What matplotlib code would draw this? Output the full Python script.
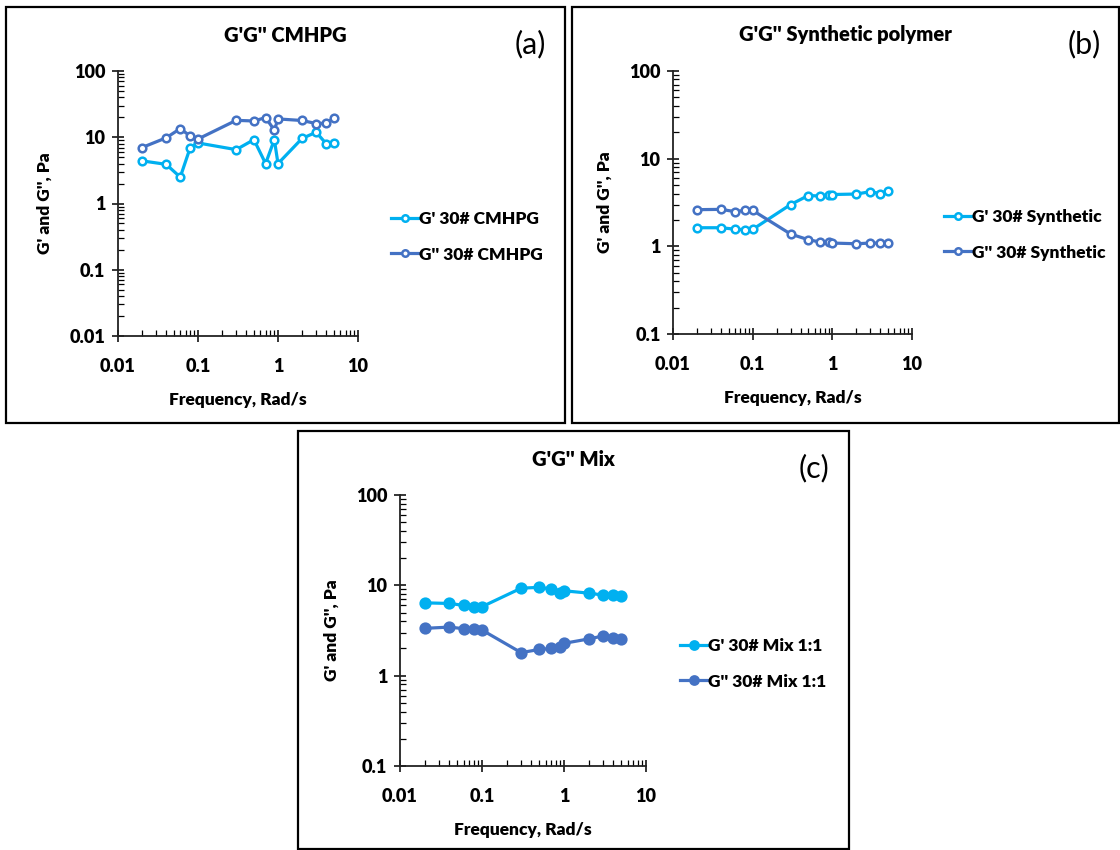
import numpy as np
import matplotlib
matplotlib.use("Agg")
import matplotlib.pyplot as plt
from matplotlib.patches import Rectangle
from matplotlib.ticker import LogLocator, FixedLocator, NullFormatter

plt.rcParams['font.family'] = ['Lato', 'DejaVu Sans']

# frequency sweep, rad/s (same for all three samples)
freq = [0.02, 0.04, 0.06, 0.08, 0.1, 0.3, 0.5, 0.7, 0.9, 1, 2, 3, 4, 5]

cmhpg_g1 = [4.4, 3.9, 2.5, 7.0, 8.2, 6.5, 9.2, 4.0, 9.2, 4.0, 9.6, 11.9, 8.0, 8.2]
cmhpg_g2 = [7.0, 9.8, 13.5, 10.4, 9.4, 18.0, 17.6, 19.8, 12.8, 18.9, 17.9, 16.1, 16.3, 19.6]

synth_g1 = [1.63, 1.63, 1.57, 1.55, 1.56, 3.0, 3.8, 3.75, 3.9, 3.9, 3.95, 4.2, 4.0, 4.3]
synth_g2 = [2.62, 2.64, 2.49, 2.57, 2.57, 1.38, 1.19, 1.12, 1.12, 1.09, 1.07, 1.09, 1.09, 1.09]

mix_g1 = [6.4, 6.3, 6.0, 5.8, 5.8, 9.3, 9.5, 9.1, 8.3, 8.7, 8.2, 7.8, 7.8, 7.6]
mix_g2 = [3.34, 3.45, 3.31, 3.31, 3.2, 1.8, 1.95, 2.0, 2.1, 2.28, 2.55, 2.75, 2.63, 2.55]

C1 = '#00B0F0'
C2 = '#4472C4'
BOLD = 'heavy'

W, H = 1120, 850
fig = plt.figure(figsize=(11.2, 8.5), dpi=100)


def px_axes(l, t, r, b):
    return fig.add_axes([l / W, 1 - b / H, (r - l) / W, (b - t) / H])


def frame(l, t, r, b):
    fig.patches.append(Rectangle((l / W, 1 - b / H), (r - l) / W, (b - t) / H,
                                 transform=fig.transFigure, fill=False,
                                 edgecolor='black', linewidth=1.6))


def panel(box, frm, title, tag, y1, y2, labels, ylim, leg_anchor, filled=False):
    frame(*frm)
    ax = px_axes(*box)
    ms = 7 if filled else 5.5
    ax.plot(freq, y1, '-o', color=C1, lw=2.3, ms=ms, mew=1.8,
            mfc=(C1 if filled else 'white'), label=labels[0])
    ax.plot(freq, y2, '-o', color=C2, lw=2.3, ms=ms, mew=1.8,
            mfc=(C2 if filled else 'white'), label=labels[1])
    ax.set_xscale('log')
    ax.set_yscale('log')
    ax.set_xlim(0.01, 10)
    ax.set_ylim(*ylim)
    ax.xaxis.set_major_locator(FixedLocator([0.01, 0.1, 1, 10]))
    ax.set_xticklabels(['0.01', '0.1', '1', '10'])
    yt = [10.0 ** k for k in range(int(round(np.log10(ylim[0]))), int(round(np.log10(ylim[1]))) + 1)]
    ax.yaxis.set_major_locator(FixedLocator(yt))
    ax.set_yticklabels([('%g' % v) for v in yt])
    ax.xaxis.set_minor_locator(LogLocator(base=10, subs=np.arange(2, 10), numticks=20))
    ax.yaxis.set_minor_locator(LogLocator(base=10, subs=np.arange(2, 10), numticks=20))
    ax.xaxis.set_minor_formatter(NullFormatter())
    ax.yaxis.set_minor_formatter(NullFormatter())
    for s in ['top', 'right']:
        ax.spines[s].set_visible(False)
    for s in ['left', 'bottom']:
        ax.spines[s].set_linewidth(1.3)
        ax.spines[s].set_color('#222222')
    ax.tick_params(which='major', direction='inout', length=8, width=1.1, labelsize=13)
    ax.tick_params(axis='x', which='major', pad=12)
    ax.tick_params(axis='y', which='major', pad=5)
    ax.tick_params(which='minor', direction='in', length=4, width=0.9)
    for lab in ax.get_xticklabels() + ax.get_yticklabels():
        lab.set_fontweight(BOLD)
    ax.set_xlabel('Frequency, Rad/s', fontsize=12.5, fontweight=BOLD, labelpad=12)
    ax.set_ylabel("G' and G'', Pa", fontsize=12.5, fontweight=BOLD, labelpad=12)
    fig.text(((frm[0] + frm[2]) / 2) / W, 1 - (frm[1] + 28) / H, title,
             ha='center', va='center', fontsize=14.5, fontweight=BOLD)
    fig.text((frm[2] - 35) / W, 1 - (frm[1] + 37) / H, tag,
             ha='center', va='center', fontsize=22)
    ax.legend(loc='center left', bbox_to_anchor=(leg_anchor[0] / W, 1 - leg_anchor[1] / H),
              bbox_transform=fig.transFigure, frameon=False, handlelength=1.6,
              handletextpad=0.0, labelspacing=1.1, markerscale=0.85,
              borderpad=0.0, borderaxespad=0.0,
              prop={'weight': BOLD, 'size': 12.5})
    return ax


panel((118, 71, 358, 336), (6, 7, 565, 423), "G'G'' CMHPG", '(a)',
      cmhpg_g1, cmhpg_g2, ["G' 30# CMHPG", "G'' 30# CMHPG"], (0.01, 100), (391, 237))
panel((673, 71, 912, 334), (572, 7, 1119, 423), "G'G'' Synthetic polymer", '(b)',
      synth_g1, synth_g2, ["G' 30# Synthetic", "G'' 30# Synthetic"], (0.1, 100), (944, 235))
panel((400, 495, 646, 766), (298, 431, 849, 849), "G'G'' Mix", '(c)',
      mix_g1, mix_g2, ["G' 30# Mix 1:1", "G'' 30# Mix 1:1"], (0.1, 100), (680, 664),
      filled=True)

fig.savefig('out.png', dpi=100)
